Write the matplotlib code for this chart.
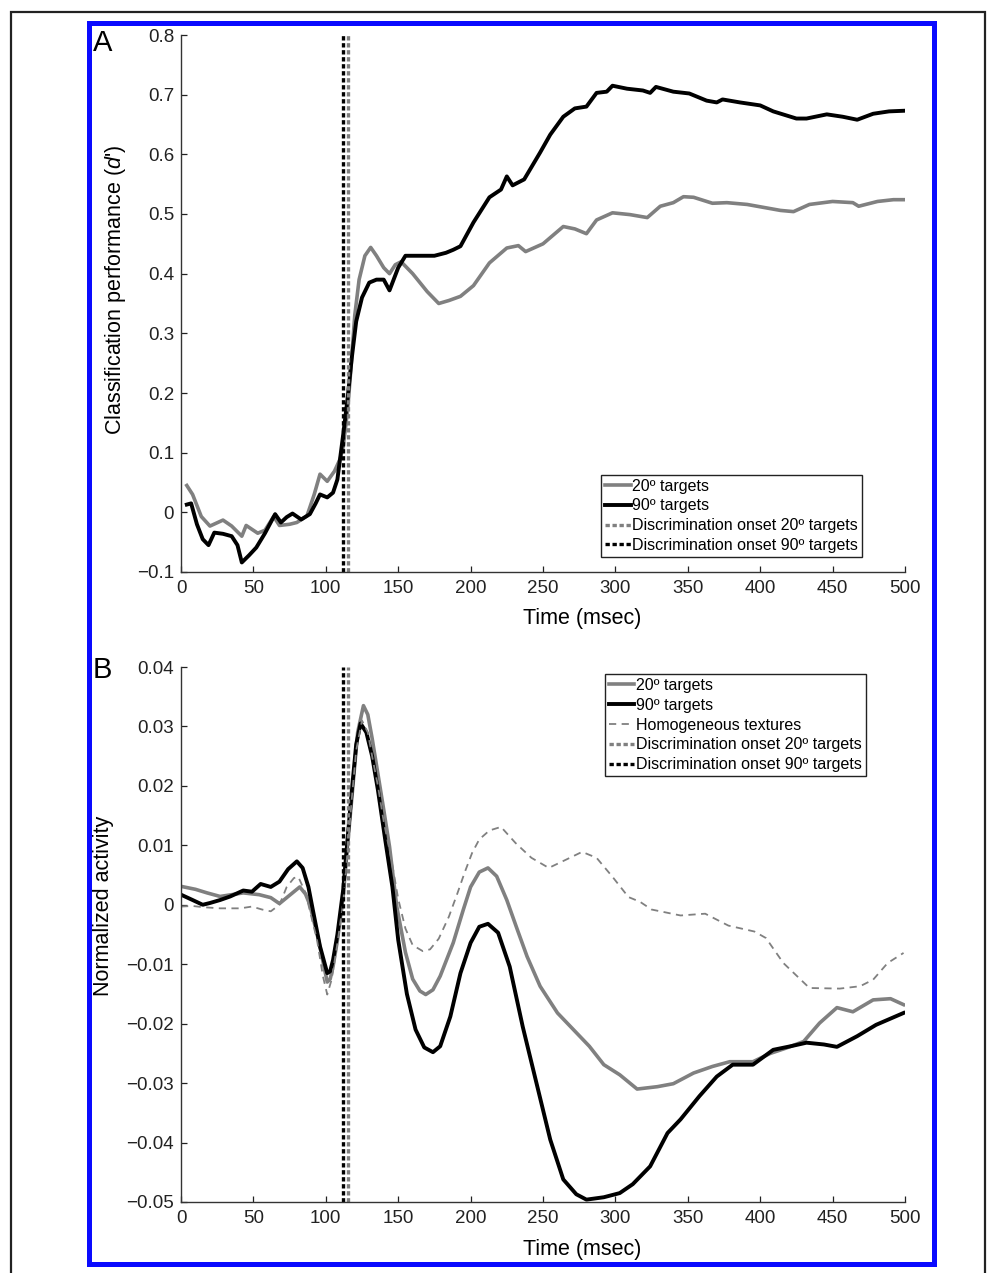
import numpy as np
import matplotlib
matplotlib.use("Agg")
import matplotlib.pyplot as plt
from matplotlib.patches import Rectangle

plt.rcParams['font.family'] = ['Liberation Sans', 'DejaVu Sans']
plt.rcParams['mathtext.fontset'] = 'custom'
plt.rcParams['mathtext.rm'] = 'Liberation Sans'
plt.rcParams['mathtext.it'] = 'Liberation Sans:italic'

# ---------------- data: panel A (classification performance d') ----------------
a_t20 = [4, 8, 14, 20, 29, 35, 42, 45, 53, 58, 64, 68, 75, 80, 87, 92, 96, 101, 106, 110,
         112, 115, 117, 120, 123, 127, 131, 135, 140, 144, 148, 152, 160, 170, 178, 185, 193,
         202, 213, 225, 233, 238, 250, 264, 272, 280, 287, 298, 310, 322, 331, 340, 347, 354,
         367, 377, 391, 414, 423, 434, 450, 464, 468, 481, 492, 499]
a_v20 = [0.045, 0.03, -0.007, -0.023, -0.013, -0.023, -0.04, -0.022, -0.035, -0.03, -0.007,
         -0.022, -0.02, -0.017, -0.006, 0.03, 0.064, 0.052, 0.069, 0.09,
         0.11, 0.17, 0.23, 0.33, 0.39, 0.43, 0.444, 0.43, 0.41, 0.40, 0.415, 0.42, 0.40, 0.37,
         0.35, 0.355, 0.362, 0.38, 0.418, 0.443, 0.447, 0.437, 0.45, 0.479, 0.475, 0.467, 0.49,
         0.502, 0.499, 0.494, 0.513, 0.519, 0.529, 0.528, 0.518, 0.519, 0.516, 0.506, 0.504,
         0.516, 0.521, 0.519, 0.513, 0.521, 0.524, 0.524]

a_t90 = [4, 7, 11, 15, 19, 23, 29, 35, 39, 42, 47, 52, 58, 65, 69, 73, 77, 83, 89, 93, 96,
         101, 105, 108, 112, 115, 118, 121, 125, 130, 135, 140, 144, 150, 155, 165, 175, 183,
         188, 193, 202, 213, 221, 225, 229, 237, 248, 255, 264, 272, 280, 287, 294, 298, 308,
         319, 324, 328, 340, 351, 363, 370, 374, 386, 400, 409, 425, 432, 446, 457, 467, 478,
         489, 499]
a_v90 = [0.013, 0.015, -0.02, -0.045, -0.055, -0.034, -0.036, -0.04, -0.055, -0.084, -0.072,
         -0.059, -0.035, -0.003, -0.017, -0.008, -0.002, -0.012, -0.003, 0.015, 0.03, 0.025,
         0.033, 0.055, 0.13, 0.19, 0.26, 0.32, 0.36, 0.385, 0.39, 0.39, 0.372, 0.41, 0.43,
         0.43, 0.43, 0.435, 0.44, 0.446, 0.486, 0.528, 0.541, 0.563, 0.548, 0.558, 0.603,
         0.633, 0.663, 0.677, 0.68, 0.703, 0.705, 0.715, 0.71, 0.707, 0.703, 0.713, 0.705,
         0.702, 0.69, 0.687, 0.692, 0.687, 0.682, 0.672, 0.66, 0.66, 0.667, 0.663, 0.658,
         0.668, 0.672, 0.673]

# ---------------- data: panel B (normalized activity) ----------------
b_t20 = [0, 10, 18, 27, 35, 43, 54, 62, 68, 74, 82, 86, 89, 95, 101, 103, 105, 108, 112, 115,
         118, 122, 126, 129, 132, 136, 140, 144, 149, 155, 160, 165, 169, 174, 179, 188, 195,
         200, 206, 212, 218, 225, 232, 239, 248, 260, 271, 282, 292, 303, 315, 329, 340, 354,
         367, 379, 395, 407, 418, 430, 441, 453, 464, 478, 490, 499]
b_v20 = [0.0031, 0.0026, 0.002, 0.0014, 0.0017, 0.002, 0.0017, 0.0012, 0.0002, 0.0014, 0.003,
         0.0018, 0.0, -0.006, -0.013, -0.0125, -0.0104, -0.006, 0.0014, 0.01, 0.018, 0.029,
         0.0335, 0.032, 0.028, 0.022, 0.016, 0.0098, -0.0003, -0.008, -0.0125, -0.0145,
         -0.0151, -0.0143, -0.012, -0.0064, -0.0008, 0.003, 0.0055, 0.0062, 0.0048, 0.0008,
         -0.004, -0.0087, -0.0137, -0.0182, -0.021, -0.0238, -0.0269, -0.0286, -0.031,
         -0.0306, -0.0301, -0.0283, -0.0272, -0.0264, -0.0264, -0.025, -0.0241, -0.023,
         -0.0199, -0.0173, -0.018, -0.016, -0.0158, -0.0168]

b_t90 = [0, 8, 15, 20, 27, 34, 43, 49, 55, 62, 68, 74, 80, 84, 88, 91, 96, 101, 103, 105, 108,
         112, 115, 118, 121, 124, 128, 132, 136, 141, 146, 150, 156, 162, 168, 174, 179, 186,
         193, 200, 206, 212, 219, 227, 236, 246, 255, 264, 273, 280, 292, 303, 312, 324, 336,
         345, 358, 370, 381, 395, 409, 421, 432, 444, 453, 467, 480, 499]
b_v90 = [0.0017, 0.0008, 0.0, 0.0003, 0.0008, 0.0014, 0.0024, 0.0022, 0.0035, 0.003, 0.0039,
         0.006, 0.0073, 0.0062, 0.003, -0.0008, -0.007, -0.0115, -0.0112, -0.0093, -0.005,
         0.0025, 0.011, 0.0193, 0.027, 0.0305, 0.029, 0.025, 0.0193, 0.011, 0.003, -0.0059,
         -0.015, -0.021, -0.024, -0.0248, -0.0238, -0.0188, -0.0115, -0.0064, -0.0037,
         -0.0032, -0.0047, -0.0104, -0.0205, -0.0305, -0.0395, -0.0462, -0.0487, -0.0496,
         -0.0492, -0.0485, -0.047, -0.044, -0.0384, -0.0361, -0.0322, -0.0289, -0.0269,
         -0.0269, -0.0244, -0.0238, -0.0232, -0.0235, -0.0239, -0.0221, -0.0202, -0.0182]

b_th = [0, 8, 15, 27, 41, 49, 56, 62, 68, 73, 78, 81, 86, 90, 94, 98, 101, 104, 108, 112, 115,
        118, 121, 125, 129, 132, 136, 140, 145, 150, 155, 160, 167, 172, 178, 185, 191, 196,
        201, 206, 213, 221, 231, 242, 254, 266, 277, 287, 298, 309, 317, 325, 345, 362, 378,
        396, 404, 416, 434, 455, 469, 478, 488, 499]
b_vh = [-0.0003, -0.0002, -0.0004, -0.0006, -0.0006, -0.0003, -0.0008, -0.0011, 0.0, 0.003,
        0.0045, 0.0047, 0.002, -0.002, -0.006, -0.012, -0.0151, -0.0126, -0.0065, 0.0003,
        0.009, 0.018, 0.026, 0.031, 0.029, 0.025, 0.02, 0.014, 0.008, 0.001, -0.004, -0.0068,
        -0.0078, -0.0075, -0.0057, -0.002, 0.002, 0.0055, 0.0087, 0.011, 0.0125, 0.0131,
        0.0104, 0.0079, 0.0062, 0.0076, 0.0089, 0.0079, 0.0047, 0.0013, 0.0005, -0.0008,
        -0.0018, -0.0015, -0.0035, -0.0045, -0.0056, -0.0098, -0.014, -0.0141, -0.0137,
        -0.0126, -0.0098, -0.0081]

onset_20 = 115
onset_90 = 112

x_ticks = [0, 50, 100, 150, 200, 250, 300, 350, 400, 450, 500]
a_yticks = [-0.1, 0, 0.1, 0.2, 0.3, 0.4, 0.5, 0.6, 0.7, 0.8]
a_ylabels = ['\u22120.1', '0', '0.1', '0.2', '0.3', '0.4', '0.5', '0.6', '0.7', '0.8']
b_yticks = [-0.05, -0.04, -0.03, -0.02, -0.01, 0, 0.01, 0.02, 0.03, 0.04]
b_ylabels = ['\u22120.05', '\u22120.04', '\u22120.03', '\u22120.02', '\u22120.01', '0',
             '0.01', '0.02', '0.03', '0.04']

# ---------------- figure ----------------
W, H = 997, 1273
fig = plt.figure(figsize=(W / 100, H / 100), dpi=100)

def fx(px):
    return px / W

def fy(py):
    return 1 - py / H

GRAY = '#808080'
BLACK = '#000000'

# borders
fig.patches.append(Rectangle((fx(11), fy(1290)), fx(985) - fx(11), fy(12) - fy(1290),
                             transform=fig.transFigure, fill=False, edgecolor='#222222',
                             linewidth=1.6, zorder=0))
fig.patches.append(Rectangle((fx(89), fy(1264)), fx(934) - fx(89), fy(23) - fy(1264),
                             transform=fig.transFigure, fill=False, edgecolor='#0a0aff',
                             linewidth=3.6, zorder=0))

axA = fig.add_axes([fx(181), fy(572), fx(905) - fx(181), fy(35) - fy(572)])
axB = fig.add_axes([fx(181), fy(1202), fx(905) - fx(181), fy(667) - fy(1202)])

dash_onset = (0, (1.3, 0.8))

for ax in (axA, axB):
    ax.set_facecolor('none')
    for s in ('top', 'right'):
        ax.spines[s].set_visible(False)
    for s in ('left', 'bottom'):
        ax.spines[s].set_linewidth(1.0)
        ax.spines[s].set_color('#333333')
    ax.set_xlim(0, 500)
    ax.set_xticks(x_ticks)
    ax.set_xticklabels([str(t) for t in x_ticks])
    ax.tick_params(direction='in', length=4.5, width=0.9, labelsize=13.5, colors='#222222')
    ax.tick_params(axis='x', pad=6)
    ax.tick_params(axis='y', pad=5)

leg_kw = dict(fontsize=11.5, frameon=True, fancybox=False, framealpha=1, edgecolor='#222222',
              handlelength=1.6, handletextpad=0.1, borderpad=0.25, labelspacing=0.3,
              borderaxespad=0)

# Panel A
axA.set_ylim(-0.1, 0.8)
axA.set_yticks(a_yticks)
axA.set_yticklabels(a_ylabels)
axA.plot(a_t20, a_v20, color=GRAY, lw=2.6, label='20\u00ba targets', solid_joinstyle='round')
axA.plot(a_t90, a_v90, color=BLACK, lw=2.8, label='90\u00ba targets', solid_joinstyle='round')
axA.axvline(onset_20, color=GRAY, lw=2.4, ls=dash_onset, label='Discrimination onset 20\u00ba targets')
axA.axvline(onset_90, color=BLACK, lw=2.4, ls=dash_onset, label='Discrimination onset 90\u00ba targets')

legA = axA.legend(loc='lower right', bbox_to_anchor=(0.9406, 0.028), **leg_kw)
legA.get_frame().set_linewidth(1.0)

# Panel B
axB.set_ylim(-0.05, 0.04)
axB.set_yticks(b_yticks)
axB.set_yticklabels(b_ylabels)
axB.plot(b_t20, b_v20, color=GRAY, lw=2.6, label='20\u00ba targets', solid_joinstyle='round')
axB.plot(b_t90, b_v90, color=BLACK, lw=2.8, label='90\u00ba targets', solid_joinstyle='round')
axB.plot(b_th, b_vh, color=GRAY, lw=1.3, ls=(0, (4, 3)), label='Homogeneous textures')
axB.axvline(onset_20, color=GRAY, lw=2.4, ls=dash_onset, label='Discrimination onset 20\u00ba targets')
axB.axvline(onset_90, color=BLACK, lw=2.4, ls=dash_onset, label='Discrimination onset 90\u00ba targets')

legB = axB.legend(loc='upper right', bbox_to_anchor=(0.946, 0.987), **leg_kw)
legB.get_frame().set_linewidth(1.0)

# axis labels
fig.text(fx(582), fy(618), 'Time (msec)', ha='center', va='center', fontsize=15.5)
fig.text(fx(582), fy(1250), 'Time (msec)', ha='center', va='center', fontsize=15.5)
fig.text(fx(116), fy(290), "Classification performance ($\\mathit{d}$')", ha='center',
         va='center', rotation=90, fontsize=15.5)
fig.text(fx(103), fy(906), 'Normalized activity', ha='center', va='center', rotation=90,
         fontsize=15.5)

# panel letters
fig.text(fx(93), fy(29), 'A', ha='left', va='top', fontsize=21)
fig.text(fx(93), fy(656), 'B', ha='left', va='top', fontsize=21)

fig.savefig('out.png', dpi=100)
